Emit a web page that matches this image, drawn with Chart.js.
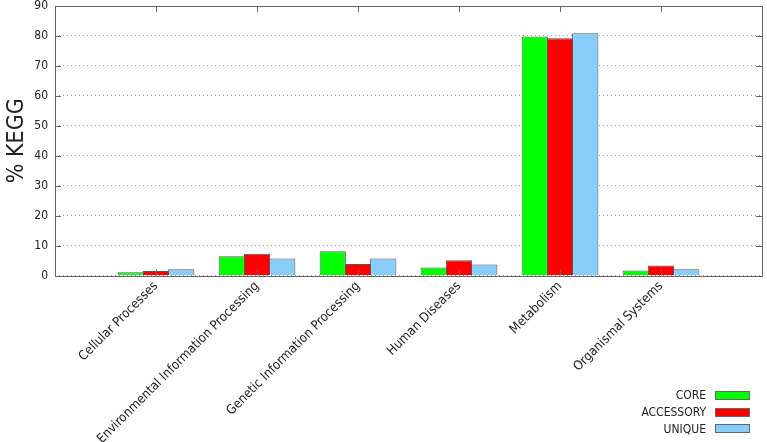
<!DOCTYPE html>
<html>
<head>
<meta charset="utf-8">
<script src="https://cdn.jsdelivr.net/npm/chart.js@4"></script>
<style>
  body { margin: 0; background: #fff; }
  #wrap { position: relative; width: 767px; height: 442px; }
  #legend { position: absolute; right: 17px; top: 387px; font: 12px "DejaVu Sans Condensed", "DejaVu Sans", sans-serif; color: #222; }
  .row { display: flex; justify-content: flex-end; align-items: center; height: 16.7px; }
  .sw { width: 33px; height: 7px; margin-left: 9px; border: 1px solid #666; }
</style>
</head>
<body>
<div id="wrap">
  <canvas id="kegg" width="767" height="442"></canvas>
  <div id="legend"></div>
</div>
<script>
const categories = ["Cellular Processes", "Environmental Information Processing", "Genetic Information Processing",
    "Human Diseases", "Metabolism", "Organismal Systems"];
const seriesNames = ["CORE", "ACCESSORY", "UNIQUE"];
const core = [1.1, 6.4, 8.1, 2.7, 79.8, 1.7];
const accessory = [1.5, 7.3, 3.8, 5.1, 79.2, 3.3];
const unique = [2.1, 5.7, 5.7, 3.7, 80.9, 2.1];
const colors = ["#00ff00", "#ff0000", "#87cefa"];

// gnuplot style frame + inward ticks
const frameTicks = {
    id: "frameTicks",
    afterDatasetsDraw(chart) {
        const { ctx, chartArea: a, scales: { x, y } } = chart;
        ctx.save();
        ctx.strokeStyle = "#666";
        ctx.lineWidth = 1;
        ctx.beginPath();
        y.ticks.forEach(t => {
            const py = Math.round(y.getPixelForValue(t.value)) + 0.5;
            ctx.moveTo(a.left, py); ctx.lineTo(a.left + 6, py);
            ctx.moveTo(a.right, py); ctx.lineTo(a.right - 6, py);
        });
        categories.forEach((c, i) => {
            const px = Math.round(x.getPixelForValue(i)) + 0.5;
            ctx.moveTo(px, a.bottom); ctx.lineTo(px, a.bottom - 6);
            ctx.moveTo(px, a.top); ctx.lineTo(px, a.top + 6);
        });
        ctx.stroke();
        ctx.strokeRect(Math.round(a.left) + 0.5, Math.round(a.top) + 0.5,
            Math.round(a.right - a.left), Math.round(a.bottom - a.top));
        ctx.restore();
    }
};

const ctx = document.getElementById("kegg").getContext("2d");
new Chart(ctx, {
    type: "bar",
    data: {
        labels: categories.map((c, i) => i),
        datasets: [core, accessory, unique].map((d, i) => ({
            label: seriesNames[i],
            data: d,
            backgroundColor: colors[i],
            borderColor: "#555",
            borderWidth: 1,
            inflateAmount: 0,
            categoryPercentage: 0.75,
            barPercentage: 1.04
        }))
    },
    options: {
        responsive: false,
        animation: false,
        layout: { padding: { top: 6, right: 5, left: 0, bottom: 0 } },
        plugins: { legend: { display: false }, tooltip: { enabled: false } },
        scales: {
            x: {
                type: "linear",
                min: -1,
                max: 6,
                offset: false,
                grid: { display: false, drawTicks: false },
                border: { display: false },
                ticks: {
                    stepSize: 1,
                    autoSkip: false,
                    minRotation: 45,
                    maxRotation: 45,
                    padding: 3,
                    color: "#222",
                    font: { family: "DejaVu Sans Condensed", size: 13 },
                    callback: v => categories[v] ?? ""
                },
                afterFit: s => { s.height = 166.5; s.paddingLeft = 0; s.paddingRight = 0; }
            },
            y: {
                min: 0,
                max: 90,
                grid: { color: "#999", lineWidth: 1, drawTicks: false },
                border: { display: false, dash: [1, 3] },
                ticks: {
                    stepSize: 10,
                    padding: 7,
                    color: "#222",
                    font: { family: "DejaVu Sans Condensed", size: 12 }
                },
                title: {
                    display: true,
                    text: "% KEGG",
                    color: "#222",
                    padding: { top: 3, bottom: 0 },
                    font: { family: "DejaVu Sans Condensed", size: 23 }
                },
                afterFit: s => { s.width = 55; s.paddingTop = 0; s.paddingBottom = 0; }
            }
        }
    },
    plugins: [frameTicks]
});

// legend: label on the left, swatch on the right
const legend = document.getElementById("legend");
seriesNames.forEach((name, i) => {
    const row = document.createElement("div");
    row.className = "row";
    row.innerHTML = `<span>${name}</span><span class="sw" style="background:${colors[i]}"></span>`;
    legend.appendChild(row);
});
</script>
</body>
</html>
